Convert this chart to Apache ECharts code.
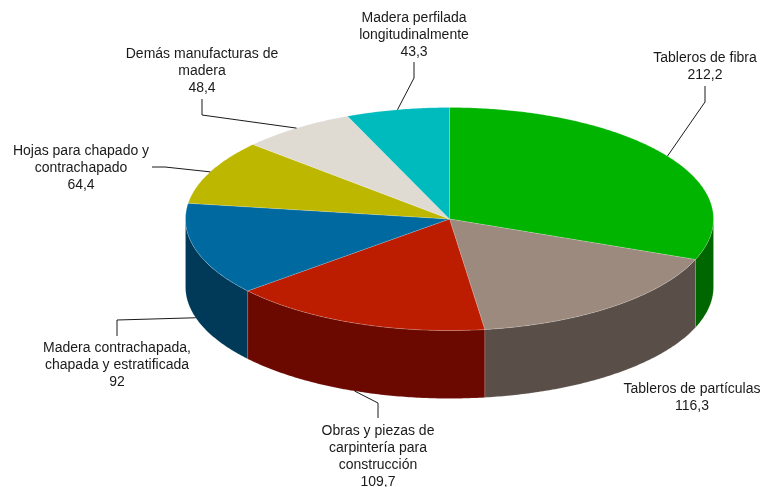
<!DOCTYPE html>
<html>
<head>
<meta charset="utf-8">
<title>Manufacturas de madera</title>
<style>
  html, body { margin: 0; padding: 0; background: #fff; }
  #chart { width: 769px; height: 487px; }
</style>
<script src="https://cdn.jsdelivr.net/npm/echarts@6/dist/echarts.min.js"></script>
</head>
<body>
<div id="chart"></div>
<script>
const categories = [
  'Tableros de fibra',
  'Tableros de partículas',
  'Obras y piezas de carpintería para construcción',
  'Madera contrachapada, chapada y estratificada',
  'Hojas para chapado y contrachapado',
  'Demás manufacturas de madera',
  'Madera perfilada longitudinalmente',
]
const values = [212.2, 116.3, 109.7, 92, 64.4, 48.4, 43.3]
const valueLabels = ['212,2', '116,3', '109,7', '92', '64,4', '48,4', '43,3']
const labelLines = [
  ['Tableros de fibra'],
  ['Tableros de partículas'],
  ['Obras y piezas de', 'carpintería para', 'construcción'],
  ['Madera contrachapada,', 'chapada y estratificada'],
  ['Hojas para chapado y', 'contrachapado'],
  ['Demás manufacturas de', 'madera'],
  ['Madera perfilada', 'longitudinalmente'],
]
const topColors = ['#00b400', '#9c8a7e', '#bc1c00', '#006aa0', '#bdb700', '#dfdbd2', '#00bbbd']
const sideColors = ['#006600', '#594e48', '#6b0900', '#003a58', '#5e5b00', '#6f6d69', '#005d5e']

// pie projection
const cx = 449.5
const cy = 219
const rx = 264
const ry = 111.5
const depth = 68
const fontSize = 14
const lineHeight = 17

// label centre x / top y, then the fixed part of each leader line (null = no leader)
const labelBoxes = [
  [705, 50], [692, 381], [378, 423], [117, 340], [81, 143], [202, 46], [414, 10],
]
const leaderBends = [
  [[705, 86], [705, 102]],
  null,
  [[378, 418], [378, 403]],
  [[117, 336], [117, 320]],
  [[152, 167], [165, 167]],
  [[202, 99], [202, 115]],
  [[414, 62], [414, 78]],
]

const total = values.reduce((a, b) => a + b, 0)
const toAngle = v => (v / total) * Math.PI * 2

function rimPoint(angle, drop) {
  return [cx + rx * Math.sin(angle), cy - ry * Math.cos(angle) + (drop || 0)]
}

function sliceRange(index) {
  const start = toAngle(values.slice(0, index).reduce((a, b) => a + b, 0))
  return [start, start + toAngle(values[index])]
}

function arcPoints(start, end, drop) {
  const steps = Math.max(2, Math.ceil((end - start) / 0.01))
  const pts = []
  for (let i = 0; i <= steps; i++) {
    pts.push(rimPoint(start + ((end - start) * i) / steps, drop))
  }
  return pts
}

function renderSide(params) {
  const range = sliceRange(params.dataIndex)
  // only the front half of the rim is visible
  const start = Math.max(range[0], Math.PI / 2)
  const end = Math.min(range[1], (Math.PI * 3) / 2)
  if (end <= start) return { type: 'group', children: [] }
  const points = arcPoints(start, end, 0).concat(arcPoints(start, end, depth).reverse())
  return {
    type: 'polygon',
    shape: { points },
    style: {
      fill: sideColors[params.dataIndex],
      stroke: 'rgba(255,255,255,0.25)',
      lineWidth: 0.5,
    },
  }
}

function renderTop(params) {
  const range = sliceRange(params.dataIndex)
  const points = [[cx, cy]].concat(arcPoints(range[0], range[1], 0))
  return {
    type: 'polygon',
    shape: { points },
    style: {
      fill: topColors[params.dataIndex],
      stroke: 'rgba(255,255,255,0.35)',
      lineWidth: 0.5,
    },
  }
}

function renderLabel(params) {
  const i = params.dataIndex
  const range = sliceRange(i)
  const mid = (range[0] + range[1]) / 2
  const children = [
    {
      type: 'text',
      style: {
        x: labelBoxes[i][0],
        y: labelBoxes[i][1],
        text: labelLines[i].concat(valueLabels[i]).join('\n'),
        fill: '#1a1a1a',
        font: fontSize + 'px "Liberation Sans", Arial, sans-serif',
        lineHeight,
        align: 'center',
        verticalAlign: 'top',
      },
    },
  ]
  if (leaderBends[i]) {
    // leaders hit the rim at the slice's middle angle, on the side wall when in front
    const drop = Math.cos(mid) < 0 && Math.sin(mid) < 0 ? depth : 0
    children.push({
      type: 'polyline',
      shape: { points: leaderBends[i].concat([rimPoint(mid, drop)]) },
      style: { stroke: '#1a1a1a', lineWidth: 1, fill: null },
    })
  }
  return { type: 'group', children }
}

const seriesData = categories.map((name, i) => ({ name, value: values[i] }))

const chart = echarts.init(document.getElementById('chart'))
chart.setOption({
  animation: false,
  backgroundColor: '#ffffff',
  tooltip: { show: false },
  series: [
    { type: 'custom', coordinateSystem: 'none', silent: true, renderItem: renderSide, data: seriesData, z: 1 },
    { type: 'custom', coordinateSystem: 'none', silent: true, renderItem: renderTop, data: seriesData, z: 2 },
    { type: 'custom', coordinateSystem: 'none', silent: true, renderItem: renderLabel, data: seriesData, z: 3 },
  ],
})
</script>
</body>
</html>
